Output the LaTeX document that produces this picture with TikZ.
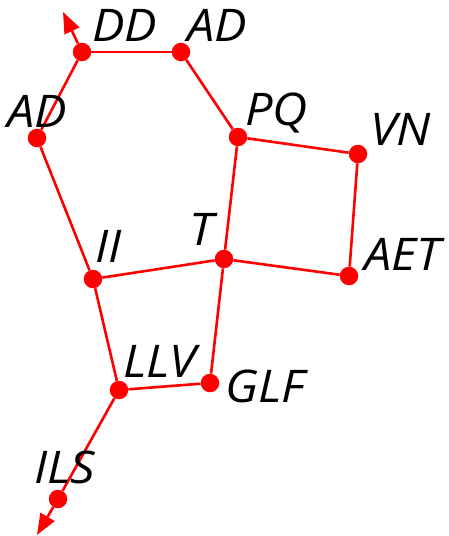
\documentclass[tikz,border=0pt]{standalone}
\usepackage{fontspec}
\setmainfont{Open Sans}[FakeStretch=1.08]
\usetikzlibrary{arrows.meta}
\begin{document}
\begin{tikzpicture}[x=1pt,y=-1pt,
  dot/.style={circle,fill=red,inner sep=0pt,minimum size=18.5pt},
  edge/.style={draw=red,line width=2.6pt},
  arr/.style={edge,-{Triangle[length=21pt,width=16pt]}},
  lab/.style={anchor=base west,inner sep=0pt,font=\fontsize{45}{45}\selectfont\itshape}]
\useasboundingbox (0,0) rectangle (448,536);
\coordinate (tipTop) at (63,12);
\coordinate (tipBot) at (37,535);
\node[dot] (dd) at (82,52) {};
\node[dot] (adt) at (181,52) {};
\node[dot] (adl) at (37,138) {};
\node[dot] (pq) at (238,137) {};
\node[dot] (vn) at (358,154) {};
\node[dot] (aet) at (349,276) {};
\node[dot] (t) at (224,259) {};
\node[dot] (ii) at (93,279) {};
\node[dot] (llv) at (119,390) {};
\node[dot] (glf) at (210,383) {};
\node[dot] (ils) at (58,499) {};
\draw[edge] (dd) -- (adt);
\draw[edge] (adt) -- (pq);
\draw[edge] (dd) -- (adl);
\draw[edge] (adl) -- (ii);
\draw[edge] (ii) -- (t);
\draw[edge] (t) -- (pq);
\draw[edge] (pq) -- (vn);
\draw[edge] (vn) -- (aet);
\draw[edge] (aet) -- (t);
\draw[edge] (t) -- (glf);
\draw[edge] (glf) -- (llv);
\draw[edge] (llv) -- (ii);
\draw[edge] (llv) -- (ils);
\draw[arr] (ils) -- (tipBot);
\draw[arr] (dd) -- (tipTop);
\node[lab] (ldd) at (92,41) {DD};
\node[lab] (ladt) at (187,41) {AD};
\node[lab] (ladl) at (7,127) {AD};
\node[lab] (lpq) at (245,125) {PQ};
\node[lab] (lvn) at (370,145) {VN};
\node[lab] (laet) at (364,270) {AET};
\node[lab] (lt) at (189,245) {T};
\node[lab] (lii) at (95,262) {II};
\node[lab] (lllv) at (123,377) {LLV};
\node[lab] (lglf) at (225,402) {GLF};
\node[lab] (lils) at (34,483) {ILS};
\end{tikzpicture}
\end{document}
